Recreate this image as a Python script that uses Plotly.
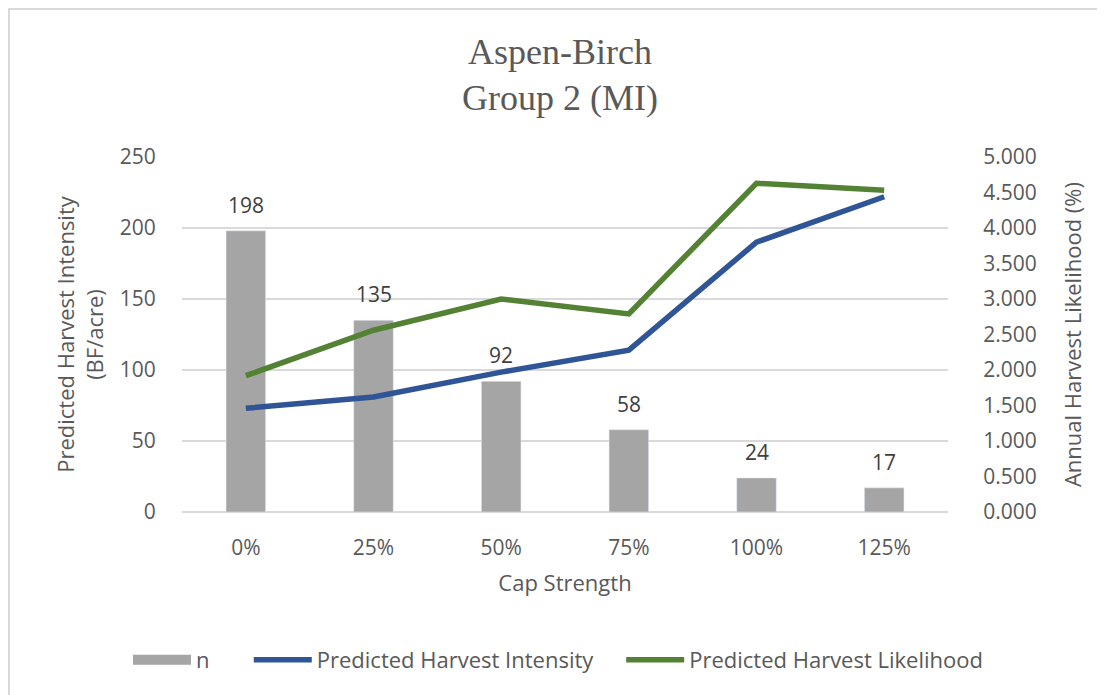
import plotly.graph_objects as go

categories = ["0%", "25%", "50%", "75%", "100%", "125%"]
n_counts = [198, 135, 92, 58, 24, 17]
harvest_intensity = [73, 81, 98.5, 114, 190, 222]
harvest_likelihood = [1.92, 2.56, 3.00, 2.79, 4.63, 4.53]

TXT = "#595959"
FONT = "Open Sans"
FS = 21
NB = "\u00a0"

# plot area on screen: x 182..948, y 157..512 (page has an 8px body offset)
PW, PH = 766, 355

fig = go.Figure()
fig.add_trace(go.Bar(
    x=categories, y=n_counts, name="n",
    marker=dict(color="#a5a5a5"),
    width=0.31, showlegend=False,
))
# legend swatch for the bars (wide grey rectangle, as in the reference)
fig.add_trace(go.Scatter(
    x=[categories[0]], y=[None], name="n" + NB * 6, mode="lines",
    line=dict(color="#a5a5a5", width=13),
))
fig.add_trace(go.Scatter(
    x=categories, y=harvest_intensity, name="Predicted Harvest Intensity" + NB * 4,
    mode="lines", line=dict(color="#2f5597", width=5.5),
))
fig.add_trace(go.Scatter(
    x=categories, y=harvest_likelihood, name="Predicted Harvest Likelihood",
    mode="lines", line=dict(color="#548235", width=5.5), yaxis="y2",
))

annotations = [
    dict(x=c, y=v, xref="x", yref="y", text=str(v), showarrow=False,
         yanchor="middle", yshift=26, font=dict(size=FS, color="#404040", family=FONT))
    for c, v in zip(categories, n_counts)
]

bx = (8.5 - 182) / PW
by = (512 - 8.5) / PH

fig.update_layout(
    width=1105, height=695,
    margin=dict(l=174, r=165, t=149, b=191),
    paper_bgcolor="white", plot_bgcolor="white",
    font=dict(family=FONT, color=TXT, size=FS),
    title=dict(
        text="Aspen-Birch<br>Group 2 (MI)",
        x=552 / 1105, xanchor="center", y=0.92, yanchor="top",
        font=dict(family="Liberation Serif", size=36, color=TXT),
    ),
    xaxis=dict(
        showgrid=False, showline=False,
        ticks="outside", ticklen=17, tickcolor="white",
        title=dict(text="Cap Strength", font=dict(size=22, color=TXT), standoff=15),
        tickfont=dict(size=FS, color=TXT),
    ),
    yaxis=dict(
        range=[0, 250], dtick=50, showgrid=True, gridcolor="#d9d9d9", gridwidth=2,
        zeroline=True, zerolinecolor="#d9d9d9", zerolinewidth=2,
        title=dict(text="Predicted Harvest Intensity<br>(BF/acre)", font=dict(size=22, color=TXT), standoff=10),
        tickfont=dict(size=FS, color=TXT), ticklen=21, ticks="outside", tickcolor="white",
    ),
    yaxis2=dict(
        range=[0, 5], dtick=0.5, tickformat=".3f", overlaying="y", side="right",
        showgrid=False, zeroline=False,
        title=dict(text="Annual Harvest Likelihood (%)", font=dict(size=22, color=TXT), standoff=29),
        tickfont=dict(size=FS, color=TXT), ticklen=30, ticks="outside", tickcolor="white",
    ),
    legend=dict(
        orientation="h", x=(128 - 182) / PW, xanchor="left",
        y=(512 - 660) / PH, yanchor="middle",
        font=dict(size=22, color=TXT), traceorder="normal", itemwidth=58,
    ),
    annotations=annotations,
    shapes=[
        dict(type="line", xref="paper", yref="paper",
             x0=bx, x1=1.4, y0=by, y1=by,
             line=dict(color="#d9d9d9", width=3)),
        dict(type="line", xref="paper", yref="paper",
             x0=bx, x1=bx, y0=by, y1=-0.7,
             line=dict(color="#d9d9d9", width=3)),
    ],
)

fig.write_html("out.html")
